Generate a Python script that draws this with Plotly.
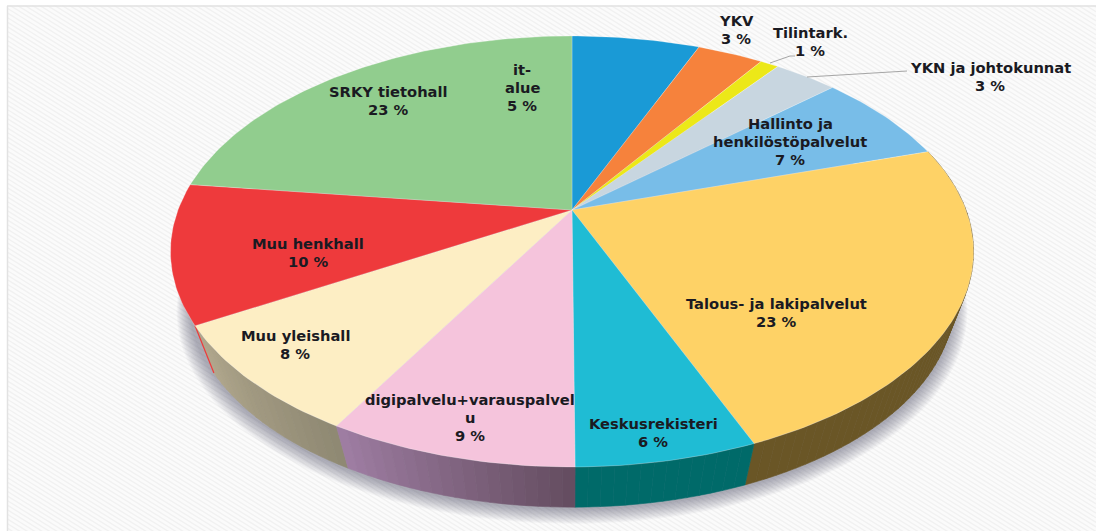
import numpy as np
import plotly.graph_objects as go

# ---- data ----
categories = ["it-<br>alue", "YKV", "Tilintark.", "YKN ja johtokunnat",
              "Hallinto ja<br>henkilöstöpalvelut", "Talous- ja lakipalvelut",
              "Keskusrekisteri", "digipalvelu+varauspalvel<br>u",
              "Muu yleishall", "Muu henkhall", "SRKY tietohall"]
shares = [6.2, 3.2, 0.9, 3.1, 6.8, 23.6, 6.1, 8.4, 8.3, 10.4, 23.0]
percent_labels = ["5 %", "3 %", "1 %", "3 %", "7 %", "23 %", "6 %", "9 %", "8 %", "10 %", "23 %"]
top_colors = ["#1a9ad6", "#f6823c", "#ece818", "#c8d6e0", "#78bde8", "#fed266",
              "#1fbcd4", "#f5c4dc", "#fdeec4", "#ee3a3c", "#91cd8e"]
# wall colours: (colour at slice start, colour at slice end), clockwise; None = wall not visible
wall_colors = [None, None, None, None, None, ("#6a5626", "#6a5626"),
               ("#006a69", "#006a69"), ("#634c5f", "#a07ea4"), ("#8e8872", "#b3a98e"),
               None, None]

# ---- layout of the picture (pixels) ----
W, H = 1096, 531
CX, CY = 572.0, 210.0
A, B, K = 394.0, 207.5, 0.1926   # perspective projection of the disc
LOW_S, LOW_CY = 0.95, 263.0      # bottom rim of the disc
LINE_STEP = 18
label_pos = [(522, 87), (736, 29), (810, 41), (990, 76), (790, 141), (776, 312),
             (653, 432), (470, 417), (295, 344), (308, 252), (388, 100)]
leaders = [[(770, 63), (790, 56), (795, 56)], [(807, 77), (907, 71)]]
RED_SLICE = 9


def top_pt(theta):
    u, v = np.sin(theta), np.cos(theta)
    w = 1 + K * v
    return CX + A * u / w, CY - B * v / w


def low_pt(theta):
    x, y = top_pt(theta)
    return CX + LOW_S * (x - CX), LOW_CY + LOW_S * (y - CY)


def mix(c0, c1, t):
    a = [int(c0[i:i + 2], 16) for i in (1, 3, 5)]
    b = [int(c1[i:i + 2], 16) for i in (1, 3, 5)]
    return "rgb(%d,%d,%d)" % tuple(round(p + (q - p) * t) for p, q in zip(a, b))


fig = go.Figure()


def poly(xs, ys, fill, line=None, width=0.0):
    fig.add_trace(go.Scatter(x=list(xs), y=list(ys), mode="lines", fill="toself",
                             fillcolor=fill, hoverinfo="skip", showlegend=False,
                             line=dict(color=line or fill, width=width)))


# diagonal hatch of the background
hx, hy = [], []
for y0 in np.arange(-700, 540, 4.6):
    hx += [0, W, None]
    hy += [y0, y0 + 0.62 * W, None]
fig.add_trace(go.Scatter(x=hx, y=hy, mode="lines", hoverinfo="skip", showlegend=False,
                         line=dict(color="#f1f1f1", width=1.4)))

# soft shadow under the disc
ring = np.linspace(0, 2 * np.pi, 241)
lx, ly = low_pt(ring)
for i in range(14, 0, -1):
    grow = 1 + i * 0.0026
    poly(CX + (lx - CX) * grow, LOW_CY + 1.5 + i * 0.45 + (ly - LOW_CY) * grow,
         "rgba(80,85,95,0.04)")

# slice boundaries
fractions = np.cumsum([0] + shares) / sum(shares)
angles = 2 * np.pi * fractions

# walls: thin strips, back to front
strips = []
for i in range(len(shares)):
    if wall_colors[i] is None:
        continue
    n = max(2, int(np.degrees(angles[i + 1] - angles[i]) / 1.5))
    edges = np.linspace(angles[i], angles[i + 1], n + 1)
    for j in range(n):
        a0, a1 = edges[j], edges[j + 1]
        if np.cos((a0 + a1) / 2) > 0.35:
            continue
        strips.append((low_pt((a0 + a1) / 2)[1], a0, a1,
                       mix(*wall_colors[i], (j + 0.5) / n)))
for _, a0, a1, col in sorted(strips, key=lambda s: s[0]):
    th = np.linspace(a0, a1, 4)
    tx, ty = top_pt(th)
    bx, by = low_pt(th[::-1])
    poly(np.r_[tx, bx, tx[0]], np.r_[ty, by, ty[0]], col, width=0.6)

# thin red sliver where the red slice meets the cream wall
rx0, ry0 = top_pt(angles[RED_SLICE])
rx1, ry1 = low_pt(angles[RED_SLICE])
fig.add_trace(go.Scatter(x=[rx0, rx1], y=[ry0, ry1], mode="lines", hoverinfo="skip",
                         showlegend=False, line=dict(color=top_colors[RED_SLICE], width=1.2)))

# top face
for i, col in enumerate(top_colors):
    n = max(4, int(np.degrees(angles[i + 1] - angles[i])))
    th = np.linspace(angles[i], angles[i + 1], n + 1)
    tx, ty = top_pt(th)
    poly(np.r_[CX, tx, CX], np.r_[CY, ty, CY], col, line="rgba(255,255,255,0.3)", width=0.8)

# leader lines
for seg in leaders:
    fig.add_trace(go.Scatter(x=[p[0] for p in seg], y=[p[1] for p in seg], mode="lines",
                             hoverinfo="skip", showlegend=False,
                             line=dict(color="#a6a6a6", width=1)))

for name, pct, (x, y) in zip(categories, percent_labels, label_pos):
    lines = name.split("<br>") + [pct]
    for k, txt in enumerate(lines):
        fig.add_annotation(x=x, y=y + (k - (len(lines) - 1) / 2) * LINE_STEP, xref="x", yref="y",
                           text=txt, showarrow=False, align="center",
                           font=dict(family="DejaVu Sans", size=14.7, color="#1a1a22", weight="bold"))

frame = "#e2e2e2"
fig.update_layout(
    width=W, height=H, margin=dict(l=0, r=0, t=0, b=0), showlegend=False,
    paper_bgcolor="white", plot_bgcolor="#fbfbfb",
    xaxis=dict(visible=False, range=[0, W], fixedrange=True),
    yaxis=dict(visible=False, range=[H, 0], fixedrange=True),
    shapes=[
        dict(type="rect", x0=0, x1=W, y0=0, y1=5.5, fillcolor="white", line_width=0, layer="above"),
        dict(type="rect", x0=0, x1=7, y0=0, y1=H, fillcolor="white", line_width=0, layer="above"),
        dict(type="line", x0=7, x1=W, y0=6, y1=6, line=dict(color=frame, width=1.5), layer="above"),
        dict(type="line", x0=7.5, x1=7.5, y0=6, y1=H, line=dict(color=frame, width=1.5), layer="above"),
    ],
)
fig.write_html("out.html", config=dict(displayModeBar=False),
               post_script="document.body.style.margin='0';")
